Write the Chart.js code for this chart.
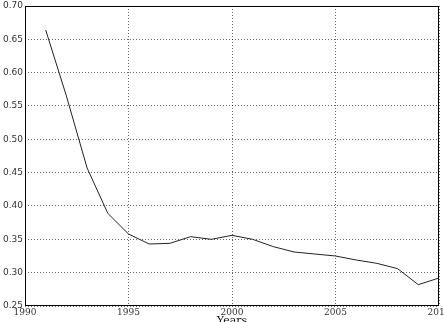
<!DOCTYPE html>
<html>
<head>
<meta charset="utf-8">
<script src="https://cdn.jsdelivr.net/npm/chart.js@4/dist/chart.umd.min.js"></script>
<style>
  html, body { margin: 0; padding: 0; background: #fff; }
  #wrap { width: 444px; height: 322px; }
</style>
</head>
<body>
<div id="wrap"><canvas id="chart" width="444" height="322"></canvas></div>
<script>
const years = [1991, 1992, 1993, 1994, 1995, 1996, 1997, 1998, 1999, 2000,
  2001, 2002, 2003, 2004, 2005, 2006, 2007, 2008, 2009, 2010];
const values = [0.664, 0.565, 0.457, 0.389, 0.358, 0.343, 0.344, 0.354, 0.350, 0.356,
  0.350, 0.339, 0.331, 0.328, 0.325, 0.319, 0.314, 0.306, 0.282, 0.292];
const xTicks = [1990, 1995, 2000, 2005, 2010];
const yTicks = [0.25, 0.30, 0.35, 0.40, 0.45, 0.50, 0.55, 0.60, 0.65, 0.70];

// black frame around the plot, like the old matplotlib look
const framePlugin = {
  id: 'frame',
  afterDraw(chart) {
    const { ctx, chartArea: a } = chart;
    ctx.save();
    ctx.strokeStyle = '#000';
    ctx.lineWidth = 1;
    ctx.strokeRect(a.left + 0.5, a.top + 0.5, a.right - a.left - 1, a.bottom - a.top - 1);
    ctx.restore();
  }
};

new Chart(document.getElementById('chart'), {
  type: 'line',
  data: {
    datasets: [{
      data: years.map((y, i) => ({ x: y, y: values[i] })),
      borderColor: '#222',
      borderWidth: 1,
      pointRadius: 0,
      tension: 0,
      fill: false
    }]
  },
  options: {
    responsive: false,
    animation: false,
    layout: { padding: { top: 6, right: 5, left: 0, bottom: -6 } },
    plugins: { legend: { display: false }, tooltip: { enabled: false } },
    scales: {
      x: {
        type: 'linear',
        min: 1990,
        max: 2010,
        afterBuildTicks: s => { s.ticks = xTicks.map(v => ({ value: v })); },
        afterFit: s => { s.height = 22; s.paddingLeft = 0; s.paddingRight = 0; },
        ticks: {
          font: { family: 'DejaVu Serif', size: 9 },
          color: '#333',
          padding: 1,
          maxRotation: 0,
          callback: v => String(v)
        },
        grid: { color: '#000', lineWidth: 0.6, drawTicks: false },
        border: { display: false, dash: [1, 2] },
        title: {
          display: true,
          text: 'Years',
          font: { family: 'DejaVu Serif', size: 11 },
          color: '#111',
          padding: 0
        }
      },
      y: {
        min: 0.25,
        max: 0.70,
        afterBuildTicks: s => { s.ticks = yTicks.map(v => ({ value: v })); },
        afterFit: s => { s.width = 25; s.paddingTop = 0; s.paddingBottom = 0; },
        ticks: {
          font: { family: 'DejaVu Sans', size: 9 },
          color: '#333',
          padding: 2,
          callback: v => v.toFixed(2)
        },
        grid: { color: '#000', lineWidth: 0.6, drawTicks: false },
        border: { display: false, dash: [1, 2] }
      }
    }
  },
  plugins: [framePlugin]
});
</script>
</body>
</html>
